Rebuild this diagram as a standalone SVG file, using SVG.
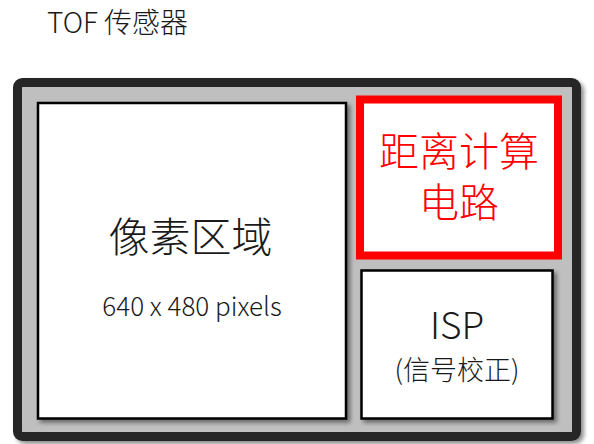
<svg xmlns="http://www.w3.org/2000/svg" width="594" height="444" viewBox="0 0 594 444">
<defs>
<filter id="sh" x="-10%" y="-10%" width="125%" height="125%">
<feGaussianBlur in="SourceAlpha" stdDeviation="2"/>
<feOffset dx="3" dy="3" result="b"/>
<feComponentTransfer><feFuncA type="linear" slope="0.45"/></feComponentTransfer>
<feMerge><feMergeNode/><feMergeNode in="SourceGraphic"/></feMerge>
</filter>
<style>
text{font-family:"Noto Sans CJK SC","Noto Sans",sans-serif;text-anchor:middle;font-weight:300;}
.box{fill:#ffffff;stroke:#000000;stroke-width:2.5;}
.lbl{fill:#1a1a1a;}
.red{fill:#ff0000;}
</style>
</defs>
<rect width="594" height="444" fill="#ffffff"/>
<text x="47" y="33" font-size="28" style="text-anchor:start" class="lbl">TOF 传感器</text>
<g id="sensor">
<rect x="17.5" y="82.5" width="559" height="354" rx="5" fill="#bfbfbf" stroke="#262626" stroke-width="9" filter="url(#sh)"/>
</g>
<g id="pixel">
<rect class="box" x="38" y="103" width="308" height="315.5" filter="url(#sh)"/>
<text x="190.5" y="252" font-size="41" class="lbl">像素区域</text>
<text x="192" y="316" font-size="26" class="lbl">640 x 480 pixels</text>
</g>
<g id="distance">
<rect x="360" y="99.5" width="198" height="156" fill="#ffffff" stroke="#ff0000" stroke-width="8"/>
<text x="459" y="166" font-size="40" class="red">距离计算</text>
<text x="459" y="217" font-size="40" class="red">电路</text>
</g>
<g id="isp">
<rect class="box" x="361.5" y="270.5" width="191" height="148" filter="url(#sh)"/>
<text x="457" y="339" font-size="37" class="lbl">ISP</text>
<text x="457" y="380" font-size="27" class="lbl">(信号校正)</text>
</g>
<g id="connectors"/>
</svg>
